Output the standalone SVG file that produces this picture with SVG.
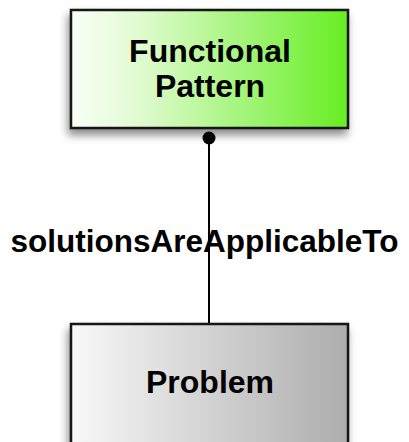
<svg xmlns="http://www.w3.org/2000/svg" width="409" height="442" viewBox="0 0 409 442">
  <defs>
    <linearGradient id="gradGreen" x1="0" y1="0" x2="1" y2="0">
      <stop offset="0" stop-color="#fafff6"/>
      <stop offset="0.25" stop-color="#e0fbd0"/>
      <stop offset="1" stop-color="#66ee22"/>
    </linearGradient>
    <linearGradient id="gradGray" x1="0" y1="0" x2="1" y2="0">
      <stop offset="0" stop-color="#f8f8f8"/>
      <stop offset="1" stop-color="#adadad"/>
    </linearGradient>
    <filter id="shadow" x="-20%" y="-20%" width="140%" height="150%">
      <feDropShadow dx="-2" dy="6" stdDeviation="4" flood-color="#000" flood-opacity="0.45"/>
    </filter>
  </defs>
  <style>
    .box { stroke: #151515; stroke-width: 2.5; filter: url(#shadow); }
    .title { font-family: "Liberation Sans", Arial, sans-serif; font-weight: bold; font-size: 32px; fill: #000; text-anchor: middle; }
    .label { font-size: 31.5px; }
    .edge { stroke: #000; stroke-width: 2; fill: none; }
  </style>
  <rect width="409" height="442" fill="#ffffff"/>

  <g id="connectors">
    <line class="edge" x1="209" y1="138" x2="209" y2="324"/>
    <circle cx="209" cy="138" r="6.5" fill="#000"/>
    <text class="title label" x="204.5" y="252">solutionsAreApplicableTo</text>
  </g>

  <g id="functional-pattern">
    <rect class="box" x="71" y="10" width="277" height="118" fill="url(#gradGreen)"/>
    <text class="title" x="210" y="62">Functional</text>
    <text class="title" x="210" y="97">Pattern</text>
  </g>

  <g id="problem">
    <rect class="box" x="71" y="324" width="277" height="140" fill="url(#gradGray)"/>
    <text class="title" x="210" y="393">Problem</text>
  </g>
</svg>
